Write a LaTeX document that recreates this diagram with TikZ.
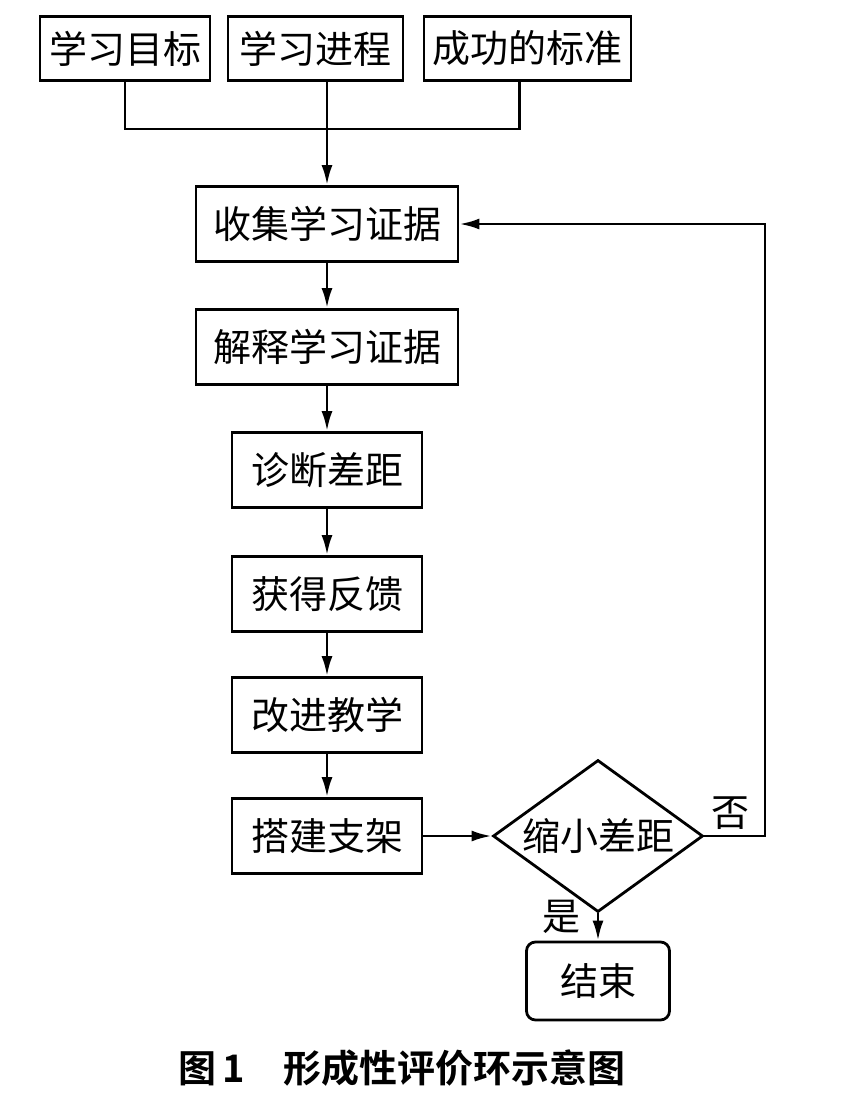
\documentclass[tikz,border=0pt]{standalone}
\usepackage{fontspec}
\newfontfamily\cjk[BoldFont={Noto Sans CJK SC Bold}]{Noto Sans CJK SC}
\usetikzlibrary{shapes.geometric,arrows.meta}
\begin{document}
\begin{tikzpicture}[x=1pt, y=-1pt, >={Latex[length=20pt,width=11pt]}, line width=2.8pt,
  every node/.style={font=\cjk\fontsize{38}{42}\selectfont},
  box/.style={draw, minimum height=75pt, inner sep=0pt},
  topbox/.style={draw, minimum height=64pt, inner sep=0pt},
  decision/.style={draw, diamond, aspect=1.38, minimum width=210pt, minimum height=152pt, inner sep=0pt},
  endbox/.style={draw, rounded corners=9pt, minimum width=143pt, minimum height=78pt}]
  \useasboundingbox (0,0) rectangle (851,1101);

  \begin{scope}
    \node[topbox, minimum width=170pt] (goal) at (125,48.5) {学习目标};
    \node[topbox, minimum width=175pt] (progress) at (315.5,48.5) {学习进程};
    \node[topbox, minimum width=207pt] (standard) at (527.5,48.5) {成功的标准};
  \end{scope}

  \foreach \name/\y/\w/\txt in {collect/224/262/收集学习证据, explain/347/262/解释学习证据,
    diagnose/470/190/诊断差距, feedback/594/190/获得反馈, improve/715/190/改进教学,
    scaffold/836/190/搭建支架}
    \node[box, minimum width=\w pt] (\name) at (327,\y) {\txt};

  \node[decision] (shrink) at (598,836) {缩小差距};
  \node[endbox] (stop) at (598,981) {结束};

  \coordinate (join) at (327,129);
  \coordinate (back) at (765,836);
  \draw (goal.south) |- (join) -| ([xshift=-8pt]standard.south);
  \draw[->] (progress.south -| collect.north) -- (collect.north);

  \foreach \a/\b in {collect/explain, explain/diagnose, diagnose/feedback, feedback/improve, improve/scaffold}
    \draw[->] (\a) -- (\b);

  \draw[->] (scaffold) -- (shrink);
  \draw[->] (shrink.east) -- (back) |- (collect.east);
  \draw[->] (shrink.south) -- (stop.north);

  \node (no) at (730,813) {否};
  \node (yes) at (561,917) {是};

  \node (caption) at (402,1068) {\bfseries 图\,1\quad 形成性评价环示意图};
\end{tikzpicture}
\end{document}
